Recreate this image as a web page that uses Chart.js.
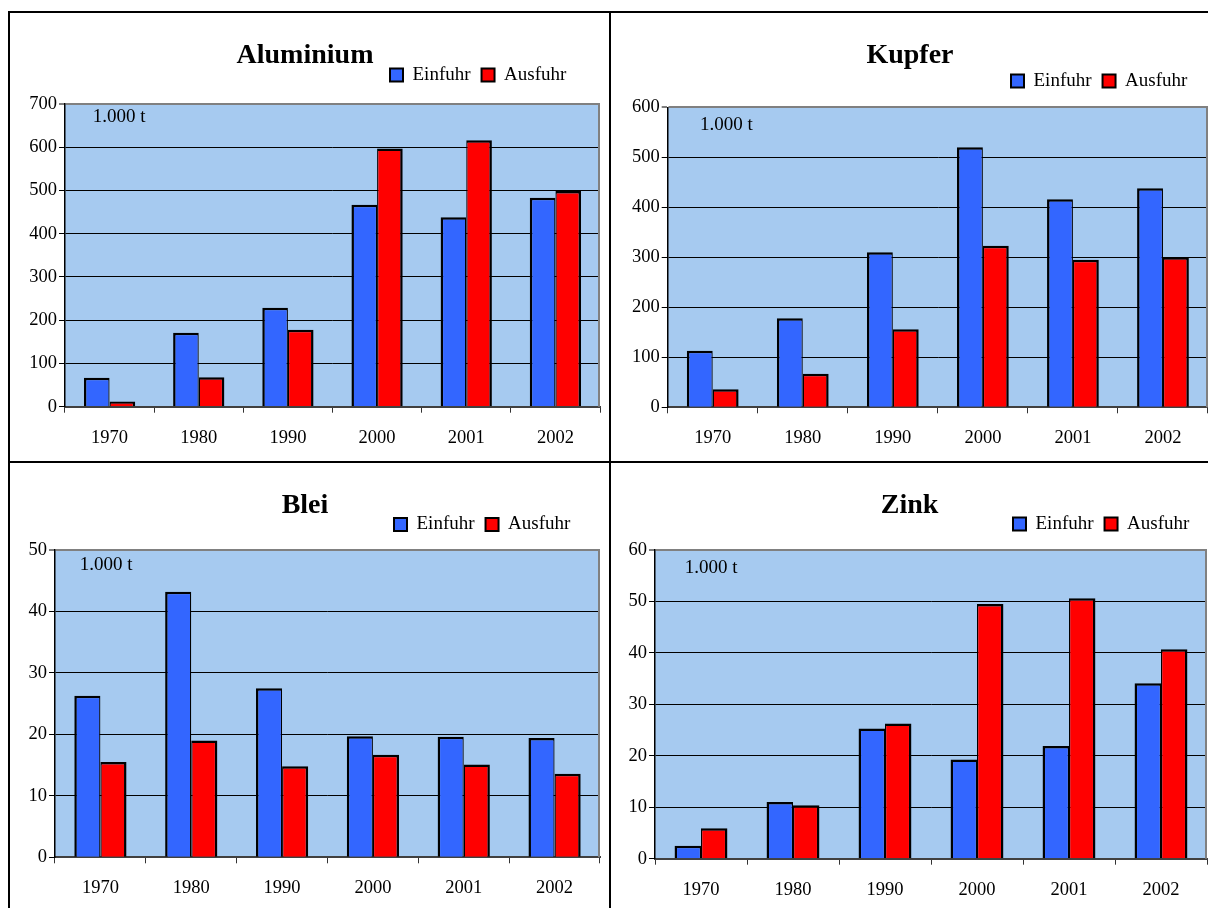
<!DOCTYPE html>
<html>
<head>
<meta charset="utf-8">
<script src="https://cdn.jsdelivr.net/npm/chart.js@4/dist/chart.umd.min.js"></script>
<style>
html,body{margin:0;padding:0;background:#fff;overflow:hidden;width:1208px;height:908px;}
#frame{position:absolute;left:8px;top:11px;width:1206px;height:902px;border:2px solid #000;}
#vl{position:absolute;left:609px;top:11px;width:2px;height:906px;background:#000;}
#hl{position:absolute;left:8px;top:461px;width:1212px;height:2px;background:#000;}
canvas{position:absolute;}
</style>
</head>
<body>
<div id="frame"></div><div id="vl"></div><div id="hl"></div>
<canvas id="c0"></canvas>
<canvas id="c1"></canvas>
<canvas id="c2"></canvas>
<canvas id="c3"></canvas>
<script>
// ---- data ----
const categories = ['1970', '1980', '1990', '2000', '2001', '2002'];
const seriesNames = ['Einfuhr', 'Ausfuhr'];
const titles = ['Aluminium', 'Kupfer', 'Blei', 'Zink'];
const unitLabel = '1.000 t';
const aluminiumEinfuhr = [67, 171, 229, 467, 438, 483];
const aluminiumAusfuhr = [12, 68, 178, 597, 616, 499];
const kupferEinfuhr = [113, 178, 310, 520, 416, 438];
const kupferAusfuhr = [36, 67, 156, 323, 295, 300];
const bleiEinfuhr = [26.3, 43.2, 27.5, 19.7, 19.6, 19.4];
const bleiAusfuhr = [15.5, 19.0, 14.8, 16.7, 15.1, 13.6];
const zinkEinfuhr = [2.5, 11.0, 25.3, 19.3, 21.9, 34.1];
const zinkAusfuhr = [5.9, 10.4, 26.3, 49.5, 50.6, 40.7];
const yMax = [700, 600, 50, 60];
const yStep = [100, 100, 10, 10];
const einfuhrSeries = [aluminiumEinfuhr, kupferEinfuhr, bleiEinfuhr, zinkEinfuhr];
const ausfuhrSeries = [aluminiumAusfuhr, kupferAusfuhr, bleiAusfuhr, zinkAusfuhr];

// ---- layout / style ----
const panels = [
  {id:'c0', x:10,  y:13,  w:600, h:449, area:{l:55,   r:590, t:91,   b:393.7}, titleMid:42.5, legendX:380, legendMid:62,   unit:{dx:27.7, dy:12.7}},
  {id:'c1', x:612, y:13,  w:606, h:449, area:{l:55.7, r:596, t:94.3, b:394.3}, titleMid:42.5, legendX:399, legendMid:68,   unit:{dx:32.3, dy:17.7}},
  {id:'c2', x:10,  y:464, w:600, h:450, area:{l:45,   r:590, t:86,   b:393.3}, titleMid:41.5, legendX:384, legendMid:60.5, unit:{dx:24.8, dy:15}},
  {id:'c3', x:612, y:464, w:606, h:450, area:{l:43,   r:595, t:86,   b:394.7}, titleMid:41.5, legendX:401, legendMid:60,   unit:{dx:29.8, dy:18.3}}
];
const BLUE = '#3366FF', RED = '#FF0000', PLOT_BG = '#A6CAF0';
const SERIF = "'Liberation Serif', 'Times New Roman', serif";
const LEG_PAD = 11, LEG_FONT = 19, LEG_BOX = 13, TITLE_FONT = 28;
const OUTER_BW = 2.5, INNER_BW = 1.25;

Chart.defaults.font.family = SERIF;
Chart.defaults.color = '#000';

function makePlugin(p) {
  return {
    id: 'deco_' + p.id,
    beforeDraw(chart) {
      const a = chart.chartArea, ctx = chart.ctx;
      ctx.save();
      ctx.fillStyle = PLOT_BG;
      ctx.fillRect(a.left, a.top, a.right - a.left, a.bottom - a.top);
      ctx.restore();
      if (chart.titleBlock) chart.titleBlock.top = p.titleMid - TITLE_FONT / 2;
      if (chart.legend) {
        chart.legend.left = p.legendX - LEG_PAD;
        chart.legend.top = p.legendMid - LEG_FONT / 2 - LEG_PAD;
      }
    },
    beforeDatasetsDraw(chart) {
      const a = chart.chartArea, ctx = chart.ctx;
      ctx.save();
      ctx.strokeStyle = '#808080';
      ctx.lineWidth = 2;
      ctx.beginPath();
      ctx.moveTo(a.right - 1, a.top);
      ctx.lineTo(a.right - 1, a.bottom);
      ctx.stroke();
      ctx.fillStyle = '#000';
      ctx.font = LEG_FONT + 'px ' + SERIF;
      ctx.textBaseline = 'middle';
      ctx.textAlign = 'left';
      ctx.fillText(unitLabel, a.left + p.unit.dx, a.top + p.unit.dy);
      ctx.restore();
    }
  };
}

panels.forEach((p, i) => {
  const el = document.getElementById(p.id);
  el.style.left = p.x + 'px';
  el.style.top = p.y + 'px';
  el.style.width = p.w + 'px';
  el.style.height = p.h + 'px';
  el.width = p.w; el.height = p.h;
  const max = yMax[i];
  const cfg = {
    type: 'bar',
    data: {
      labels: categories,
      datasets: [
        {label: seriesNames[0], data: einfuhrSeries[i], backgroundColor: BLUE, borderColor: '#000',
         borderWidth: {top: OUTER_BW, left: OUTER_BW, right: INNER_BW, bottom: OUTER_BW}, inflateAmount: 0},
        {label: seriesNames[1], data: ausfuhrSeries[i], backgroundColor: RED, borderColor: '#000',
         borderWidth: {top: OUTER_BW, left: INNER_BW, right: OUTER_BW, bottom: OUTER_BW}, inflateAmount: 0}
      ]
    },
    options: {
      responsive: false,
      animation: false,
      events: [],
      layout: {padding: {left: 0, right: p.w - p.area.r, top: 0, bottom: 0}},
      datasets: {bar: {categoryPercentage: 0.575, barPercentage: 1}},
      plugins: {
        tooltip: {enabled: false},
        title: {display: true, text: titles[i], color: '#000', padding: 0,
                font: {family: SERIF, size: TITLE_FONT, weight: 'bold', lineHeight: 1}},
        legend: {display: true, position: 'top', align: 'start',
                 labels: {boxWidth: LEG_BOX, boxHeight: LEG_BOX, padding: LEG_PAD, color: '#000',
                          font: {family: SERIF, size: LEG_FONT},
                          generateLabels(chart) {
                            const items = Chart.defaults.plugins.legend.labels.generateLabels(chart);
                            items.forEach(it => { it.lineWidth = 2; it.strokeStyle = '#000'; });
                            return items;
                          }}}
      },
      scales: {
        x: {
          afterFit(s) { s.height = p.h - p.area.b; },
          grid: {display: true, drawOnChartArea: false, drawTicks: true, tickLength: 6, tickColor: '#333', tickWidth: 1, offset: true},
          border: {display: true, color: '#404040', width: 2},
          ticks: {padding: 14, color: '#000', font: {family: SERIF, size: 18.5}}
        },
        y: {
          min: 0, max: max,
          afterFit(s) { s.width = p.area.l; },
          grid: {
            color: c => (c.tick && c.tick.value === max) ? '#808080' : '#000',
            lineWidth: c => (c.tick && c.tick.value === max) ? 2 : 1,
            tickColor: '#000', tickWidth: 1, tickLength: 6
          },
          border: {display: true, color: '#000', width: 1.5},
          ticks: {stepSize: yStep[i], padding: 2, color: '#000', font: {family: SERIF, size: 18.5}}
        }
      }
    },
    plugins: [makePlugin(p)]
  };
  const chart = new Chart(el, cfg);
  const dt = p.area.t - chart.chartArea.top;
  cfg.options.layout.padding.top += dt;
  chart.update('none');
});
</script>
</body>
</html>
